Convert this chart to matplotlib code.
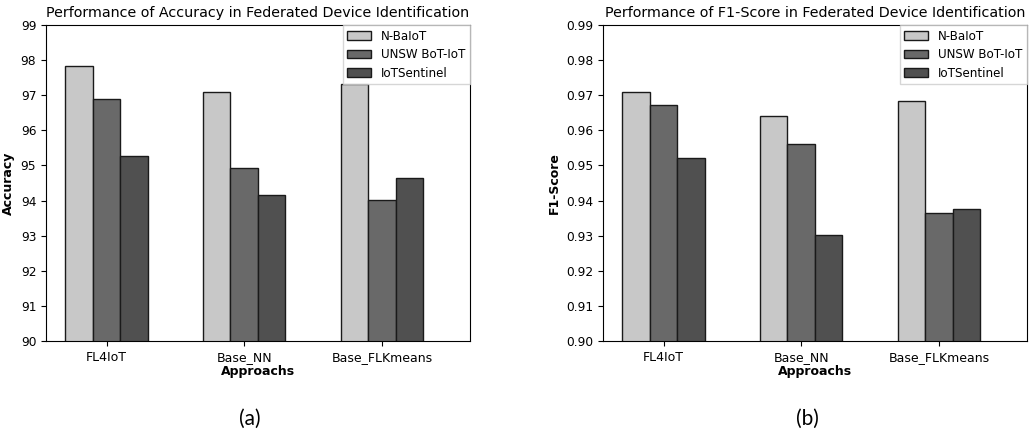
import matplotlib.pyplot as plt
import numpy as np

approaches = ['FL4IoT', 'Base_NN', 'Base_FLKmeans']
datasets = ['N-BaIoT', 'UNSW BoT-IoT', 'IoTSentinel']

accuracy = {
    'N-BaIoT': [97.82, 97.08, 97.33],
    'UNSW BoT-IoT': [96.90, 94.92, 94.03],
    'IoTSentinel': [95.27, 94.17, 94.64],
}
f1_score = {
    'N-BaIoT': [0.9708, 0.9642, 0.9683],
    'UNSW BoT-IoT': [0.9673, 0.9561, 0.9364],
    'IoTSentinel': [0.9522, 0.9302, 0.9376],
}

colors = ['#c8c8c8', '#696969', '#505050']
width = 0.2
r = np.arange(len(approaches))

fig = plt.figure(figsize=(10.29, 4.34), dpi=100)
ax1 = fig.add_axes([0.0447, 0.2143, 0.412, 0.728])
ax2 = fig.add_axes([0.586, 0.2143, 0.412, 0.728])


def draw(ax, data, ylabel, title, ylim, yticks, fmt):
    for i, name in enumerate(datasets):
        ax.bar(r + (i - 1) * width, data[name], width, color=colors[i],
               edgecolor='#1a1a1a', linewidth=1, label=name)
    ax.set_xticks(r)
    ax.set_xticklabels(approaches, fontsize=9)
    ax.set_xlim(-0.44, 2.64)
    ax.set_ylim(*ylim)
    ax.set_yticks(yticks)
    ax.set_yticklabels([fmt.format(v) for v in yticks], fontsize=8.8)
    ax.set_xlabel('Approachs', fontweight='bold', fontsize=9, labelpad=1)
    ax.set_ylabel(ylabel, fontweight='bold', fontsize=9)
    ax.set_title(title, fontsize=10.3, pad=6)
    ax.legend(loc='upper right', borderaxespad=0, fontsize=8.6,
              fancybox=False, edgecolor='#cccccc', labelspacing=0.45)


draw(ax1, accuracy, 'Accuracy',
     'Performance of Accuracy in Federated Device Identification',
     (90, 99), np.arange(90, 100, 1), '{:.0f}')
draw(ax2, f1_score, 'F1-Score',
     'Performance of F1-Score in Federated Device Identification',
     (0.90, 0.99), np.round(np.arange(0.90, 0.995, 0.01), 2), '{:.2f}')

fig.text(0.243, 0.022, '(a)', fontsize=15, family='Lato', ha='center')
fig.text(0.785, 0.022, '(b)', fontsize=15, family='Lato', ha='center')

plt.savefig('out.png', dpi=100)
